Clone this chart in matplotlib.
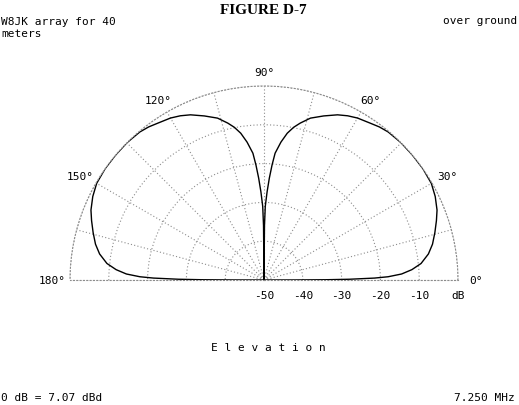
import numpy as np
import matplotlib
matplotlib.use("Agg")
import matplotlib.pyplot as plt

# elevation pattern, right half (0..90 deg); the array is bidirectional so the
# left half is the mirror image
elev_deg = [0, 0.1, 0.25, 0.5, 1, 1.5, 2.5, 4, 6, 9, 12, 15.5, 19, 22, 26, 30,
            35, 40, 45, 50, 53, 56, 60, 63, 66, 70, 74, 77, 79, 81, 83, 85,
            86, 87, 88, 89, 89.5, 90]
gain_db = [-50, -42, -34, -28, -21.5, -18, -14.5, -11.8, -9.3, -7.1, -5.6, -4.3,
           -3.0, -1.9, -0.9, -0.2, 0, 0, 0, -0.2, -0.6, -1.2, -1.8, -2.5, -3.4,
           -5.0, -6.6, -8.5, -9.9, -11.7, -14.2, -17.2, -20.3, -23.7, -27.3,
           -31, -36, -50]

grid_angles = list(range(0, 181, 15))
label_angles = [0, 30, 60, 90, 120, 150, 180]
r_ticks = [-50, -40, -30, -20, -10, 0]
r_labels = ["-50", "-40", "-30", "-20", "-10", "dB"]

title = "FIGURE D-7"
desc_left = "W8JK array for 40\nmeters"
desc_right = "over ground"
foot_left = "0 dB = 7.07 dBd"
foot_right = "7.250 MHz"

mono = "DejaVu Sans Mono"
grid_color = "#8c8c8c"
plt.rcParams["font.family"] = mono
plt.rcParams["font.size"] = 8

fig = plt.figure(figsize=(5.19, 4.06), dpi=100)
# square box; the half-disc wedge is centred inside it
ax = fig.add_axes([70 / 519, 1 - 378 / 406, 388 / 519, 388 / 406], projection="polar")

# build full 0..180 curve from the half pattern
th = np.array(elev_deg)
g = np.array(gain_db)
th_full = np.concatenate([th, 180 - th[::-1]])
g_full = np.concatenate([g, g[::-1]])
ax.plot(np.radians(th_full), g_full, color="black", lw=1.0)

ax.set_thetamin(0)
ax.set_thetamax(180)
ax.set_rlim(-50, 0)
ax.set_thetagrids(grid_angles, [""] * len(grid_angles))
ax.set_rgrids(r_ticks, r_labels)
ax.tick_params(labelsize=8)
ax.grid(True, color=grid_color, linestyle=(0, (1, 2)), lw=0.8)
for name, sp in ax.spines.items():
    sp.set_linestyle((0, (1, 2)))
    sp.set_color(grid_color)
    sp.set_linewidth(0.8)

# angle labels sit just outside the 0 dB circle
for a in label_angles:
    t = np.radians(a)
    ax.annotate(f"{a}°", xy=(t, 0), xytext=(18 * np.cos(t), 14 * np.sin(t)),
                textcoords="offset pixels", ha="center", va="center",
                annotation_clip=False)

fig.text(263 / 519, 1 - 10 / 406, title, ha="center", va="center",
         family="Liberation Serif", weight="bold", fontsize=11)
fig.text(0.002, 1 - 28 / 406, desc_left, ha="left", va="center",
         linespacing=1.15)
fig.text(517 / 519, 1 - 21 / 406, desc_right, ha="right", va="center")
fig.text(268 / 519, 1 - 348 / 406, " ".join("Elevation"), ha="center", va="center")
fig.text(0.002, 1 - 398 / 406, foot_left, ha="left", va="center")
fig.text(515 / 519, 1 - 398 / 406, foot_right, ha="right", va="center")

fig.savefig("out.png", dpi=100)
